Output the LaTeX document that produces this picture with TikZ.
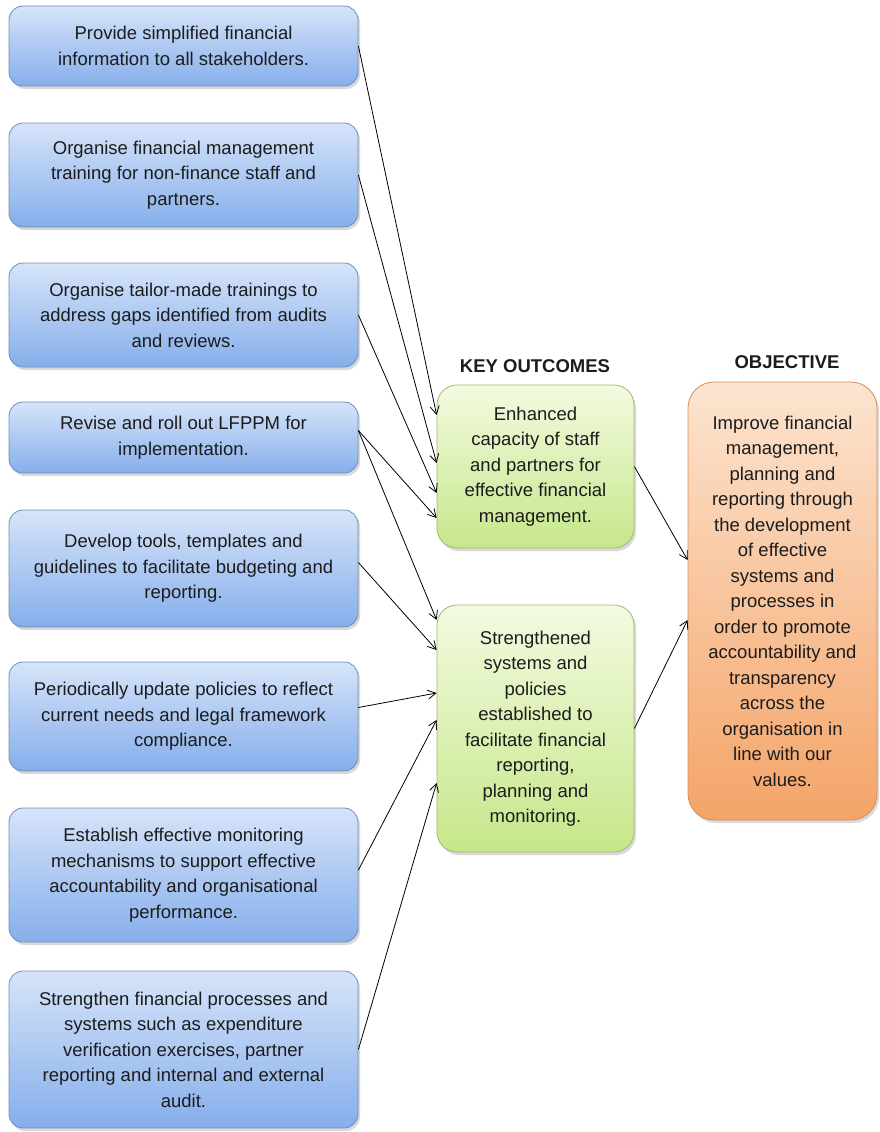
\documentclass[tikz,border=0pt]{standalone}
\usepackage{fontspec}
\setmainfont{Liberation Sans}
\usetikzlibrary{arrows.meta,shadows}

\definecolor{actTop}{HTML}{D6E4F9}
\definecolor{actBot}{HTML}{86AEEB}
\definecolor{actLine}{HTML}{6F8DBA}
\definecolor{outTop}{HTML}{F3FAE0}
\definecolor{outBot}{HTML}{C6E78A}
\definecolor{outLine}{HTML}{9CBD6A}
\definecolor{objTop}{HTML}{FCE4D0}
\definecolor{objBot}{HTML}{F4A468}
\definecolor{objLine}{HTML}{D98C52}
\definecolor{txt}{HTML}{1C1C1C}

\tikzset{
  boxbase/.style={align=center, text=txt, line width=0.8pt, inner sep=4pt,
    drop shadow={opacity=0.3, shadow xshift=2pt, shadow yshift=-3pt}},
  actbox/.style={boxbase, draw=actLine, top color=actTop, bottom color=actBot,
    rounded corners=14pt, minimum width=349pt},
  outbox/.style={boxbase, draw=outLine, top color=outTop, bottom color=outBot,
    rounded corners=20pt, minimum width=197pt},
  objbox/.style={boxbase, draw=objLine, top color=objTop, bottom color=objBot,
    rounded corners=26pt, minimum width=189pt},
  head/.style={font=\fontsize{18.5}{22}\selectfont\bfseries, text=txt},
  conn/.style={draw=black, line width=0.8pt, -{Straight Barb[length=8pt,width=9pt]}}
}

\begin{document}
\begin{tikzpicture}[x=1pt, y=-1pt, font=\fontsize{18.5}{25.5}\selectfont]
\useasboundingbox (0,0) rectangle (879,1132);

% activity boxes
\node[actbox, minimum height=80pt]  (b1) at (183.5,46)   {Provide simplified financial\\information to all stakeholders.};
\node[actbox, minimum height=104pt] (b2) at (183.5,175)  {Organise financial management\\training for non-finance staff and\\partners.};
\node[actbox, minimum height=104pt] (b3) at (183.5,315)  {Organise tailor-made trainings to\\address gaps identified from audits\\and reviews.};
\node[actbox, minimum height=71pt]  (b4) at (183.5,437.5) {Revise and roll out LFPPM for\\implementation.};
\node[actbox, minimum height=117pt] (b5) at (183.5,568.5) {Develop tools, templates and\\guidelines to facilitate budgeting and\\reporting.};
\node[actbox, minimum height=109pt] (b6) at (183.5,716.5) {Periodically update policies to reflect\\current needs and legal framework\\compliance.};
\node[actbox, minimum height=134pt] (b7) at (183.5,875)  {Establish effective monitoring\\mechanisms to support effective\\accountability and organisational\\performance.};
\node[actbox, minimum height=157pt] (b8) at (183.5,1049.5) {Strengthen financial processes and\\systems such as expenditure\\verification exercises, partner\\reporting and internal and external\\audit.};

% outcomes
\node[head] (hko) at (535,366) {KEY OUTCOMES};
\node[outbox, minimum height=163pt] (g1) at (535.5,466.5) {Enhanced\\capacity of staff\\and partners for\\effective financial\\management.};
\node[outbox, minimum height=247pt] (g2) at (535.5,728.5) {Strengthened\\systems and\\policies\\established to\\facilitate financial\\reporting,\\planning and\\monitoring.};

% objective
\node[head] (hob) at (787,362) {OBJECTIVE};
\node[objbox, minimum height=438pt] (obj) at (782.5,601) {Improve financial\\management,\\planning and\\reporting through\\the development\\of effective\\systems and\\processes in\\order to promote\\accountability and\\transparency\\across the\\organisation in\\line with our\\values.};

% activities to outcomes
\draw[conn] (b1.east) -- ([yshift=51.5pt]g1.west);
\draw[conn] (b2.east) -- ([yshift=3.5pt]g1.west);
\draw[conn] (b3.east) -- ([yshift=-26.5pt]g1.west);
\draw[conn] ([yshift=7pt]b4.east) -- ([yshift=-51.5pt]g1.west);
\draw[conn] ([yshift=7pt]b4.east) -- ([yshift=108.5pt]g2.west);
\draw[conn] ([yshift=6pt]b5.east) -- ([yshift=78.5pt]g2.west);
\draw[conn] ([yshift=9pt]b6.east) -- ([yshift=35.5pt]g2.west);
\draw[conn] ([yshift=5pt]b7.east) -- ([yshift=8.5pt]g2.west);
\draw[conn] (b8.east) -- ([yshift=-54.5pt]g2.west);

% outcomes to objective
\draw[conn] (g1.east) -- ([yshift=41pt]obj.west);
\draw[conn] (g2.east) -- ([yshift=-19pt]obj.west);
\end{tikzpicture}
\end{document}
